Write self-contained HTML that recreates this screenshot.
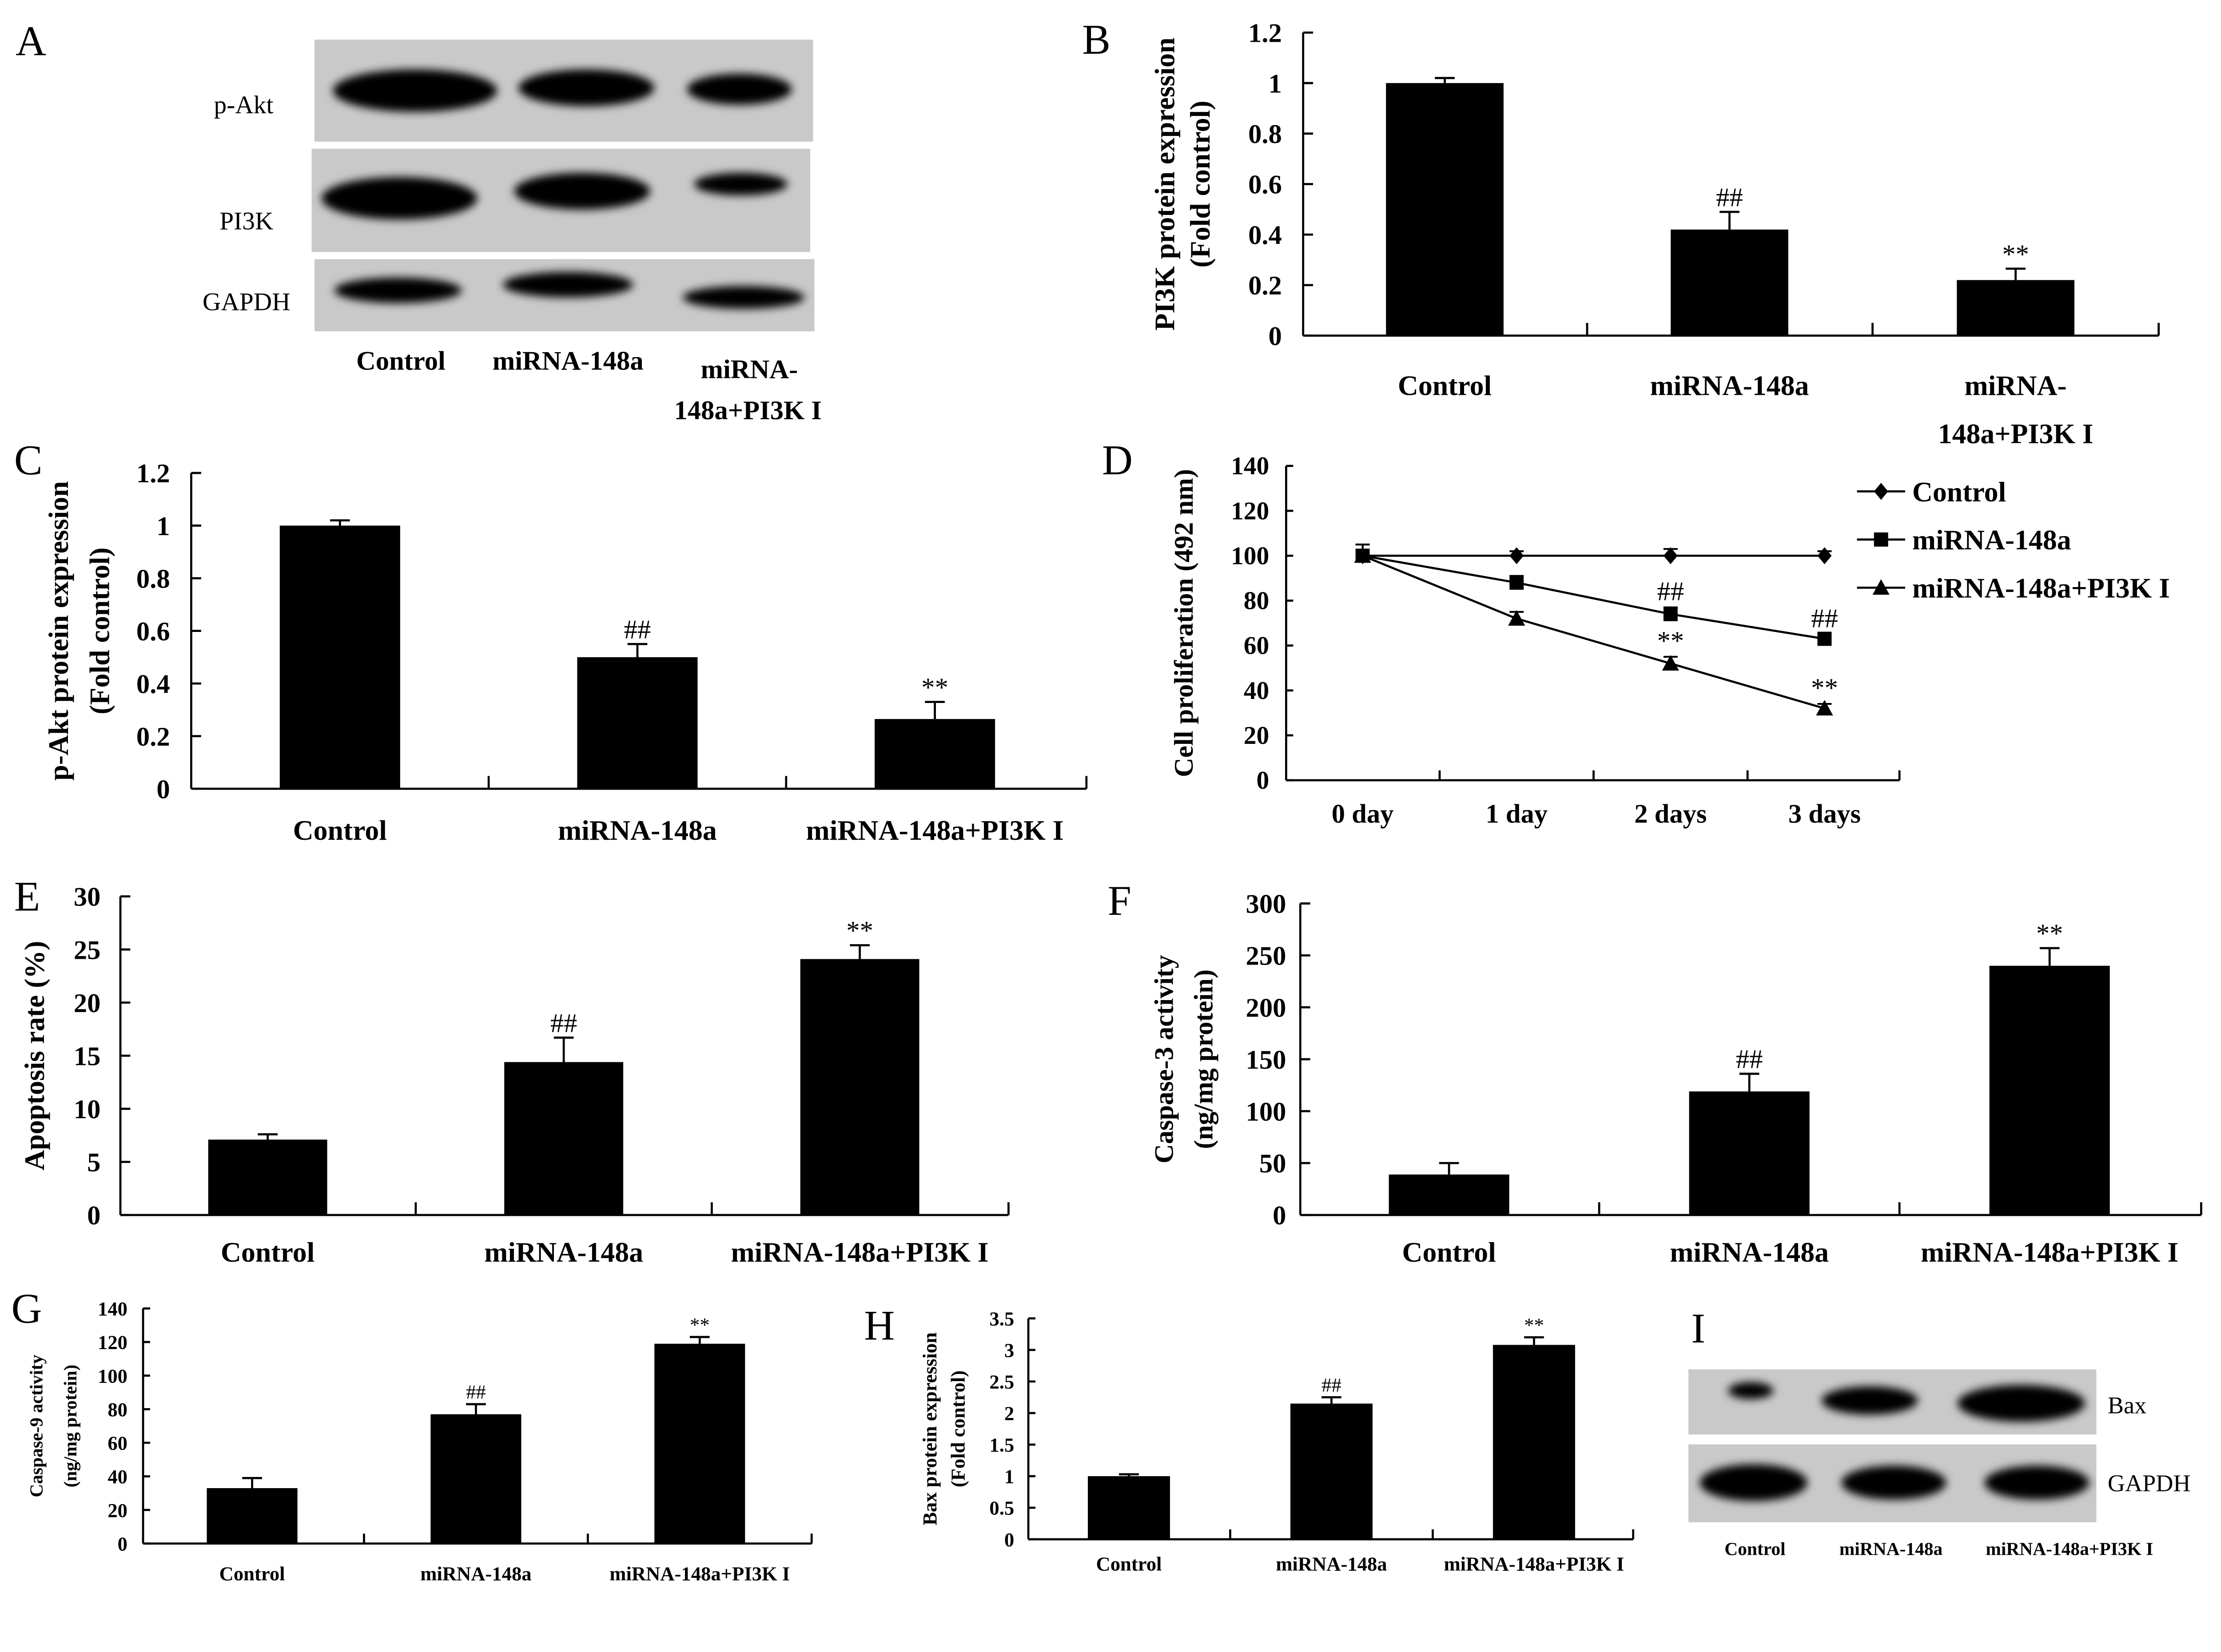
<!DOCTYPE html>
<html><head><meta charset="utf-8">
<style>
html,body{margin:0;padding:0;background:#fff;overflow:hidden;}
svg{display:block;position:absolute;left:0;top:0;width:100vw;height:72.0663vw;}
text{font-family:"Liberation Serif",serif;fill:#000;}
</style></head>
<body>
<svg id="fig" viewBox="0 0 1568 1130" preserveAspectRatio="none" xmlns="http://www.w3.org/2000/svg">
<defs>
<filter id="blur" x="-30%" y="-60%" width="160%" height="220%"><feGaussianBlur stdDeviation="3"/></filter>
</defs>
<rect width="1568" height="1130" fill="#fff"/>
<g id="root"></g>
</svg>
<script>
// ---------- DATA ----------
const groups3 = ["Control","miRNA-148a","miRNA-148a+PI3K I"];
const pi3kValues = [1.0, 0.42, 0.22];
const pi3kErrors = [0.02, 0.07, 0.045];
const pi3kMarks = ["", "##", "**"];
const pi3kTicks = [0,0.2,0.4,0.6,0.8,1,1.2];

const aktValues = [1.0, 0.5, 0.265];
const aktErrors = [0.02, 0.05, 0.065];
const aktMarks = ["", "##", "**"];
const aktTicks = [0,0.2,0.4,0.6,0.8,1,1.2];

const prolDays = ["0 day","1 day","2 days","3 days"];
const prolSeries = ["Control","miRNA-148a","miRNA-148a+PI3K I"];
const prolControl = [100,100,100,100];
const prolControlErr = [5,2,3,2];
const prolMiR = [100,88,74,63];
const prolMiRErr = [5,3,3,2];
const prolPI3K = [100,72,52,32];
const prolPI3KErr = [5,3,3,2];
const prolMiRMarks = ["","","##","##"];
const prolPI3KMarks = ["","","**","**"];
const prolTicks = [0,20,40,60,80,100,120,140];

const apoValues = [7.1, 14.4, 24.1];
const apoErrors = [0.5, 2.3, 1.3];
const apoMarks = ["", "##", "**"];
const apoTicks = [0,5,10,15,20,25,30];

const cas3Values = [39, 119, 240];
const cas3Errors = [11, 17, 17];
const cas3Marks = ["", "##", "**"];
const cas3Ticks = [0,50,100,150,200,250,300];

const cas9Values = [33, 77, 119];
const cas9Errors = [6, 6, 4];
const cas9Marks = ["", "##", "**"];
const cas9Ticks = [0,20,40,60,80,100,120,140];

const baxValues = [1.0, 2.15, 3.08];
const baxErrors = [0.03, 0.1, 0.12];
const baxMarks = ["", "##", "**"];
const baxTicks = [0,0.5,1,1.5,2,2.5,3,3.5];

// ---------- HELPERS ----------
const NS="http://www.w3.org/2000/svg";
const root=document.getElementById('root');
function el(tag,attrs,parent,txt){const e=document.createElementNS(NS,tag);for(const k in attrs)e.setAttribute(k,attrs[k]);if(txt!==undefined)e.textContent=txt;(parent||root).appendChild(e);return e;}
function txt(parent,x,y,s,size,opts){opts=opts||{};const t=el('text',{x:x,y:y,'font-size':size,'font-weight':opts.w||'bold','text-anchor':opts.a||'middle'},parent,s);if(opts.rot)t.setAttribute('transform','rotate(-90 '+x+' '+y+')');return t;}
function panelLabel(s,x,y){const t=el('text',{x:x,y:y,'font-size':30,'font-weight':'normal'},root,s);}

function barChart(cfg){
  const g=el('g',{});
  
  
  const ymax=cfg.ticks[cfg.ticks.length-1];
  const Y=v=>cfg.y0-(v/ymax)*(cfg.y0-cfg.y1);
  const tl=cfg.fs<16?5:7;
  el('line',{x1:cfg.ax,y1:cfg.y1,x2:cfg.ax,y2:cfg.y0,stroke:'#000','stroke-width':1.5},g);
  el('line',{x1:cfg.ax,y1:cfg.y0,x2:cfg.axEnd,y2:cfg.y0,stroke:'#000','stroke-width':1.5},g);
  cfg.ticks.forEach(t=>{
    el('line',{x1:cfg.ax,y1:Y(t),x2:cfg.ax+tl,y2:Y(t),stroke:'#000','stroke-width':1.5},g);
    const lab=txt(g,cfg.ax-cfg.gap,Y(t)+cfg.fs*0.35,String(t),cfg.fs,{a:'end'});
    
    
  });
  const seps=[];
  for(let i=0;i<cfg.cx.length-1;i++)seps.push((cfg.cx[i]+cfg.cx[i+1])/2);
  seps.push(cfg.axEnd);
  seps.forEach(sx=>el('line',{x1:sx,y1:cfg.y0,x2:sx,y2:cfg.y0-tl-2,stroke:'#000','stroke-width':1.5},g));
  cfg.values.forEach((v,i)=>{
    const cx=cfg.cx[i];
    const r=el('rect',{x:cx-cfg.bw/2,y:Y(v),width:cfg.bw,height:cfg.y0-Y(v),fill:'#000'},g);
    
    
    const top=Y(v+cfg.errors[i]);
    el('line',{x1:cx,y1:Y(v),x2:cx,y2:top,stroke:'#000','stroke-width':1.5},g);
    el('line',{x1:cx-7,y1:top,x2:cx+7,y2:top,stroke:'#000','stroke-width':1.5},g);
    if(cfg.marks[i]){const m=txt(g,cx,top-4,cfg.marks[i],cfg.fs,{w:'normal'});}
    const lines=(cfg.labelLines&&cfg.labelLines[i])||[cfg.labels[i]];
    lines.forEach((ln,j)=>{const l=txt(g,cx,cfg.ly+j*cfg.lfs*1.7,ln,cfg.lfs);});
  });
  cfg.titles.forEach((tt,j)=>{const t=txt(g,cfg.tx[j],(cfg.y0+cfg.y1)/2,tt,cfg.tfs,{rot:true});});
}

function blot(name,x,y,w,h,bands,bg){
  const g=el('g',{});
  
  
  el('rect',{x:x,y:y,width:w,height:h,fill:bg||'#c9c9c9'},g);
  bands.forEach(b=>{el('ellipse',{cx:b[0],cy:b[3],rx:b[1],ry:b[2],fill:'#000',filter:'url(#blur)'},g);});
}

// ---------- PANEL A ----------
panelLabel('A',11,39);
blot('blot-p-akt',222,28,352,72,[[293,58,15,64],[414,48,13,62],[522,37,11,63]]);
blot('blot-pi3k',220,105,352,73,[[282,55,15,140],[411,48,13,135],[523,33,8,130]]);
blot('blot-gapdh',222,183,353,51,[[281,45,9,205],[401,46,9,201],[525,43,8,210]]);
[['p-Akt',172,80],['PI3K',174,162],['GAPDH',174,219]].forEach(a=>{const t=txt(root,a[1],a[2],a[0],18,{w:'normal'});});
[['Control',283,261],['miRNA-148a',401,261],['miRNA-',529,267],['148a+PI3K I',528,296]].forEach(a=>{const t=txt(root,a[1],a[2],a[0],19);});

// ---------- PANEL B ----------
panelLabel('B',764,38);
barChart({name:'chart-b-pi3k',values:pi3kValues,errors:pi3kErrors,marks:pi3kMarks,ticks:pi3kTicks,labels:groups3,
  labelLines:[['Control'],['miRNA-148a'],['miRNA-','148a+PI3K I']],
  ax:920,axEnd:1524,y0:237,y1:23,cx:[1020,1221,1423],bw:83,fs:19,gap:15,lfs:20,ly:279,tfs:20,
  titles:['PI3K protein expression','(Fold control)'],tx:[829,854]});

// ---------- PANEL C ----------
panelLabel('C',10,335);
barChart({name:'chart-c-p-akt',values:aktValues,errors:aktErrors,marks:aktMarks,ticks:aktTicks,labels:groups3,
  ax:135,axEnd:767,y0:557,y1:334,cx:[240,450,660],bw:85,fs:19,gap:15,lfs:20,ly:593,tfs:20,
  titles:['p-Akt protein expression','(Fold control)'],tx:[48,77]});

// ---------- PANEL D ----------
panelLabel('D',778,335);
(function(){
  const g=el('g',{});
  
  
  const ax=908,y0=551,y1=329,ymax=140,axEnd=1341;
  const X=i=>962+i*108.7;
  const Y=v=>y0-(v/ymax)*(y0-y1);
  el('line',{x1:ax,y1:y1,x2:ax,y2:y0,stroke:'#000','stroke-width':1.5},g);
  el('line',{x1:ax,y1:y0,x2:axEnd,y2:y0,stroke:'#000','stroke-width':1.5},g);
  prolTicks.forEach(t=>{el('line',{x1:ax,y1:Y(t),x2:ax+5,y2:Y(t),stroke:'#000','stroke-width':1.5},g);const l=txt(g,ax-12,Y(t)+6,String(t),18,{a:'end'});});
  prolDays.forEach((d,i)=>{const sx=i<3?(X(i)+X(i+1))/2:axEnd;el('line',{x1:sx,y1:y0,x2:sx,y2:y0-7,stroke:'#000','stroke-width':1.5},g);const l=txt(g,X(i),y0+30,d,19);});
  const t=txt(g,842,(y0+y1)/2,'Cell proliferation (492 nm)',19,{rot:true});
  const series=[[prolControl,prolControlErr,'diamond',null],[prolMiR,prolMiRErr,'square',prolMiRMarks],[prolPI3K,prolPI3KErr,'triangle',prolPI3KMarks]];
  function marker(shape,x,y,p){
    if(shape==='diamond')return el('polygon',{points:`${x},${y-6} ${x+5},${y} ${x},${y+6} ${x-5},${y}`,fill:'#000'},p);
    if(shape==='square')return el('rect',{x:x-5,y:y-5,width:10,height:10,fill:'#000'},p);
    return el('polygon',{points:`${x},${y-6} ${x+6},${y+5} ${x-6},${y+5}`,fill:'#000'},p);
  }
  series.forEach((s,k)=>{
    const sg=el('g',{},g);
    
    
    el('polyline',{points:s[0].map((v,i)=>X(i)+','+Y(v)).join(' '),fill:'none',stroke:'#000','stroke-width':1.5},sg);
    s[0].forEach((v,i)=>{
      const top=Y(v+s[1][i]);
      el('line',{x1:X(i),y1:Y(v),x2:X(i),y2:top,stroke:'#000','stroke-width':1.3},sg);
      el('line',{x1:X(i)-5,y1:top,x2:X(i)+5,y2:top,stroke:'#000','stroke-width':1.3},sg);
      const m=marker(s[2],X(i),Y(v),sg);
      if(s[3]&&s[3][i]){const mk=txt(sg,X(i),top-5,s[3][i],19,{w:'normal'});}
    });
    const ly=347+k*34;
    const lg=el('g',{},g);
    
    
    el('line',{x1:1311,y1:ly,x2:1345,y2:ly,stroke:'#000','stroke-width':1.5},lg);
    marker(s[2],1328,ly,lg);
    txt(lg,1350,ly+7,prolSeries[k],20,{a:'start'});
  });
})();

// ---------- PANEL E ----------
panelLabel('E',10,643);
barChart({name:'chart-e-apoptosis',values:apoValues,errors:apoErrors,marks:apoMarks,ticks:apoTicks,labels:groups3,
  ax:85,axEnd:712,y0:858,y1:633,cx:[189,398,607],bw:84,fs:19,gap:14,lfs:20,ly:891,tfs:20,
  titles:['Apoptosis rate (%)'],tx:[31]});

// ---------- PANEL F ----------
panelLabel('F',782,646);
barChart({name:'chart-f-caspase3',values:cas3Values,errors:cas3Errors,marks:cas3Marks,ticks:cas3Ticks,labels:groups3,
  ax:918,axEnd:1554,y0:858,y1:638,cx:[1023,1235,1447],bw:85,fs:19,gap:10,lfs:20,ly:891,tfs:19,
  titles:['Caspase-3 activity','(ng/mg protein)'],tx:[828,856]});

// ---------- PANEL G ----------
panelLabel('G',8,934);
barChart({name:'chart-g-caspase9',values:cas9Values,errors:cas9Errors,marks:cas9Marks,ticks:cas9Ticks,labels:groups3,
  ax:101,axEnd:573,y0:1090,y1:924,cx:[178,336,494],bw:64,fs:14,gap:11,lfs:14,ly:1116,tfs:13,
  titles:['Caspase-9 activity','(ng/mg protein)'],tx:[30,54]});

// ---------- PANEL H ----------
panelLabel('H',610,946);
barChart({name:'chart-h-bax',values:baxValues,errors:baxErrors,marks:baxMarks,ticks:baxTicks,labels:groups3,
  ax:726,axEnd:1153,y0:1087,y1:931,cx:[797,940,1083],bw:58,fs:14,gap:10,lfs:14,ly:1109,tfs:14,
  titles:['Bax protein expression','(Fold control)'],tx:[661,681]});

// ---------- PANEL I ----------
panelLabel('I',1194,948);
blot('blot-bax',1192,967,288,46,[[1236,16,6,982],[1320,34,10,989],[1427,45,13,991]]);
blot('blot-gapdh-i',1192,1020,288,55,[[1238,38,13,1047],[1337,37,12,1047],[1438,37,12,1047]]);
[['Bax',1488,998],['GAPDH',1488,1053]].forEach(a=>{const t=txt(root,a[1],a[2],a[0],17,{w:'normal',a:'start'});});
[['Control',1239,1098],['miRNA-148a',1335,1098],['miRNA-148a+PI3K I',1461,1098]].forEach(a=>{const t=txt(root,a[1],a[2],a[0],13);});
</script>
</body></html>
